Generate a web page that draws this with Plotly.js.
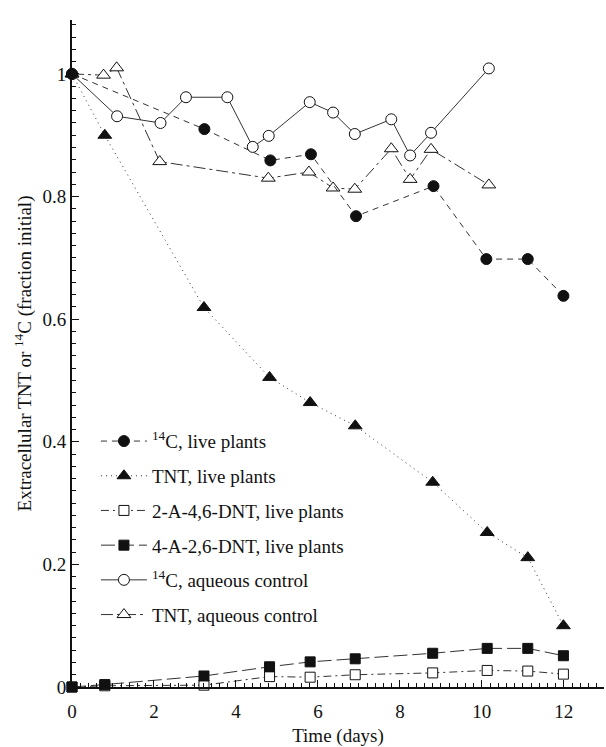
<!DOCTYPE html>
<html>
<head>
<meta charset="utf-8">
<script src="https://cdn.plot.ly/plotly-3.0.1.min.js"></script>
<style>html,body{margin:0;padding:0;background:#fff;}#chart{width:606px;height:747px;}</style>
</head>
<body>
<div id="chart"></div>
<script>
// ---- data ----
const daysC14Live = [0, 3.23, 4.84, 5.83, 6.93, 8.82, 10.11, 11.12, 11.99];
const c14Live     = [1.0, 0.91, 0.859, 0.869, 0.768, 0.817, 0.698, 0.698, 0.638];

const daysTntLive = [0, 0.80, 3.22, 4.82, 5.81, 6.91, 8.80, 10.13, 11.12, 11.99];
const tntLive     = [1.0, 0.90, 0.619, 0.505, 0.464, 0.426, 0.334, 0.252, 0.211, 0.10];

const daysDnt = [0, 0.80, 3.22, 4.82, 5.81, 6.91, 8.80, 10.13, 11.12, 11.99];
const dnt2A   = [0.0, 0.002, 0.003, 0.017, 0.016, 0.020, 0.023, 0.027, 0.026, 0.021];
const dnt4A   = [0.0, 0.004, 0.018, 0.033, 0.041, 0.046, 0.055, 0.063, 0.063, 0.051];

const daysC14Aq = [0, 1.10, 2.16, 2.78, 3.79, 4.41, 4.80, 5.80, 6.37, 6.90, 7.79, 8.25, 8.76, 10.17];
const c14Aq     = [1.0, 0.931, 0.920, 0.962, 0.962, 0.881, 0.899, 0.954, 0.937, 0.902, 0.926, 0.867, 0.904, 1.009];

const daysTntAq = [0, 0.77, 1.09, 2.14, 4.79, 5.78, 6.37, 6.90, 7.79, 8.25, 8.76, 10.17];
const tntAq     = [1.0, 0.998, 1.01, 0.857, 0.830, 0.840, 0.814, 0.812, 0.878, 0.828, 0.877, 0.819];

const seriesNames = [
  '<sup>14</sup>C, live plants',
  'TNT, live plants',
  '2-A-4,6-DNT, live plants',
  '4-A-2,6-DNT, live plants',
  '<sup>14</sup>C, aqueous control',
  'TNT, aqueous control'
];
const xTitle = 'Time (days)';
const yTitle = 'Extracellular TNT or <sup>14</sup>C (fraction initial)';

// ---- styling ----
const FONT = 'Liberation Serif, Times New Roman, serif';
const INK = '#111';
function tr(x, y, name, i, dash, symbol, fill, size) {
  return {
    x: x, y: y, name: name, type: 'scatter', mode: 'lines+markers',
    legendgroup: 'g' + i,
    line: {color: '#333', width: 1, dash: dash},
    marker: {symbol: symbol, size: size, color: fill, line: {color: INK, width: 1}},
    cliponaxis: false
  };
}
const data = [
  tr(daysC14Aq, c14Aq, seriesNames[4], 5, 'solid', 'circle', '#fff', 11),
  tr(daysTntAq, tntAq, seriesNames[5], 6, '12px,4px,3px,4px', 'triangle-up', '#fff', 12),
  tr(daysC14Live, c14Live, seriesNames[0], 1, '6px,5px', 'circle', INK, 11),
  tr(daysTntLive, tntLive, seriesNames[1], 2, '1px,4px', 'triangle-up', INK, 12),
  tr(daysDnt, dnt2A, seriesNames[2], 3, '8px,4px,2px,4px', 'square', '#fff', 10),
  tr(daysDnt, dnt4A, seriesNames[3], 4, '14px,5px', 'square', INK, 10)
];
// legend order as in reference
data[0].legendrank = 5; data[1].legendrank = 6;
data[2].legendrank = 1; data[3].legendrank = 2;
data[4].legendrank = 3; data[5].legendrank = 4;

const layout = {
  width: 606, height: 747,
  margin: {l: 72, r: 2, t: 20, b: 60},
  paper_bgcolor: '#fff', plot_bgcolor: '#fff',
  font: {family: FONT, size: 19, color: INK},
  showlegend: true,
  legend: {
    x: 0.045, y: 0.397, xanchor: 'left', yanchor: 'top',
    bgcolor: 'rgba(0,0,0,0)', borderwidth: 0,
    font: {family: FONT, size: 19, color: INK},
    traceorder: 'grouped', tracegroupgap: 7, itemwidth: 46
  },
  xaxis: {
    range: [0, 12.98], showgrid: false, zeroline: false,
    showline: true, linecolor: INK, linewidth: 2,
    ticks: 'inside', ticklen: 7, tickwidth: 1, tickcolor: INK,
    dtick: 2, tick0: 0, ticklabelstandoff: 6,
    minor: {dtick: 0.2, ticklen: 4, tickcolor: INK, ticks: 'inside', showgrid: false},
    tickfont: {family: FONT, size: 19, color: INK},
    title: {text: xTitle, font: {family: FONT, size: 19, color: INK}, standoff: 10}
  },
  yaxis: {
    range: [0, 1.088], showgrid: false, zeroline: false,
    showline: true, linecolor: INK, linewidth: 2,
    ticks: 'inside', ticklen: 7, tickwidth: 1, tickcolor: INK,
    dtick: 0.2, tick0: 0,
    minor: {dtick: 0.02, ticklen: 4, tickcolor: INK, ticks: 'inside', showgrid: false},
    tickfont: {family: FONT, size: 19, color: INK},
    title: {text: yTitle, font: {family: FONT, size: 19, color: INK}, standoff: 6}
  }
};
Plotly.newPlot('chart', data, layout, {staticPlot: true, displayModeBar: false});
</script>
</body>
</html>
